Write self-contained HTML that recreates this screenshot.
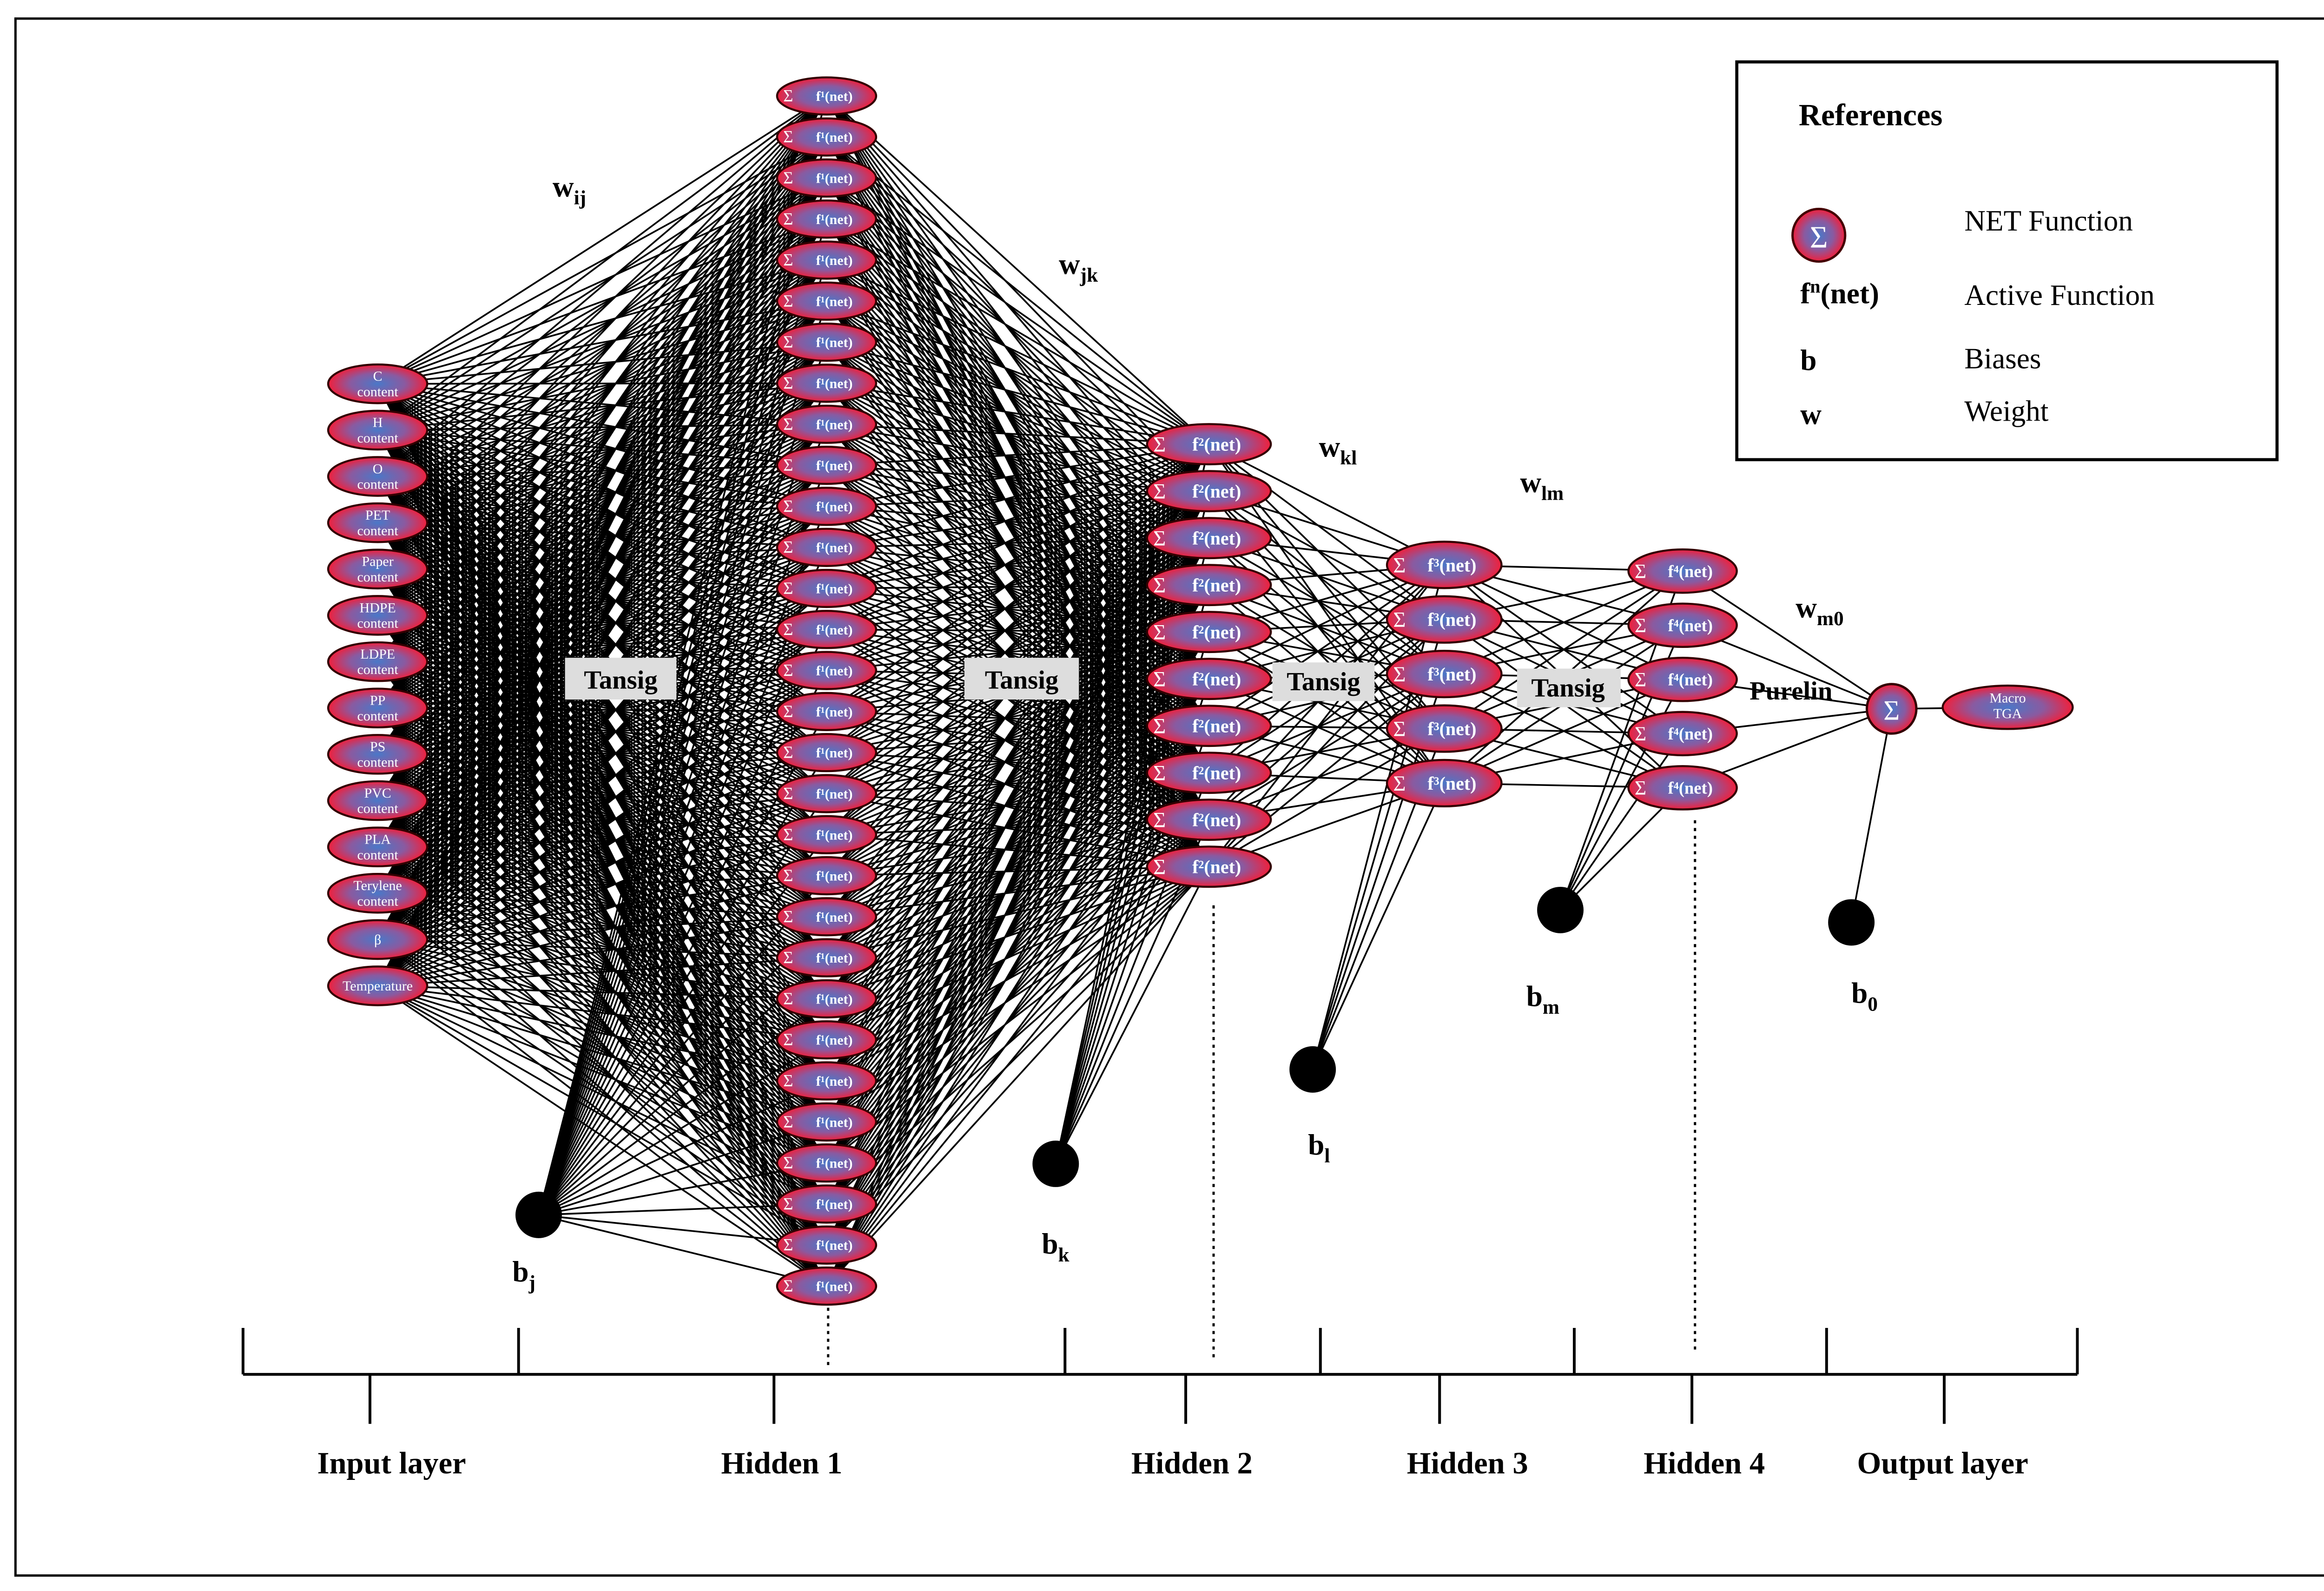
<!DOCTYPE html>
<html><head><meta charset="utf-8"><style>
html,body{margin:0;padding:0;background:#fff}
svg{display:block}
text{font-family:"Liberation Serif",serif}
</style></head><body>
<svg id="s" xmlns="http://www.w3.org/2000/svg" width="5222" height="3423" viewBox="0 0 1568 1028" preserveAspectRatio="none">
<defs>
<radialGradient id="g" cx="50%" cy="50%" r="50%">
<stop offset="0" stop-color="#4a78c8"/><stop offset="0.55" stop-color="#8a5aa0"/><stop offset="1" stop-color="#f0203c"/>
</radialGradient>
</defs>
<rect x="0" y="0" width="1568" height="1028" fill="#fff"/>
<rect x="10" y="12" width="1548" height="1006" fill="none" stroke="#000" stroke-width="1.5"/>
<g id="lines" stroke="#000" stroke-width="1.1"></g>
<g id="nodes"></g>
<rect x="1122" y="40" width="349" height="257" fill="#fff" stroke="#000" stroke-width="2"/>
<text x="1162" y="81" font-size="20" font-weight="bold">References</text>
<circle cx="1175" cy="152" r="17" fill="url(#g)" stroke="#400" stroke-width="1.5"/>
<text x="1175" y="160" font-size="20" fill="#fff" text-anchor="middle">Σ</text>
<text x="1269" y="149" font-size="19">NET Function</text>
<text x="1163" y="196" font-size="19" font-weight="bold">f<tspan font-size="12" dy="-7">n</tspan><tspan dy="7">(net)</tspan></text>
<text x="1269" y="197" font-size="19">Active Function</text>
<text x="1163" y="239" font-size="19" font-weight="bold">b</text>
<text x="1269" y="238" font-size="19">Biases</text>
<text x="1163" y="274" font-size="19" font-weight="bold">w</text>
<text x="1269" y="272" font-size="19">Weight</text>
<g font-size="19" font-weight="bold">
<text x="357" y="127">w<tspan font-size="13" dy="5">ij</tspan></text>
<text x="684" y="177">w<tspan font-size="13" dy="5">jk</tspan></text>
<text x="852" y="295">w<tspan font-size="13" dy="5">kl</tspan></text>
<text x="982" y="318">w<tspan font-size="13" dy="5">lm</tspan></text>
<text x="1160" y="399">w<tspan font-size="13" dy="5">m0</tspan></text>
<text x="331" y="828">b<tspan font-size="13" dy="5">j</tspan></text>
<text x="673" y="810">b<tspan font-size="13" dy="5">k</tspan></text>
<text x="845" y="746">b<tspan font-size="13" dy="5">l</tspan></text>
<text x="986" y="650">b<tspan font-size="13" dy="5">m</tspan></text>
<text x="1196" y="648">b<tspan font-size="13" dy="5">0</tspan></text>
</g>
<g font-size="17" font-weight="bold">
<rect x="365" y="425" width="72" height="27" fill="#ddd"/><text x="401" y="445" text-anchor="middle">Tansig</text>
<rect x="623" y="425" width="74" height="27" fill="#ddd"/><text x="660" y="445" text-anchor="middle">Tansig</text>
<rect x="822" y="428" width="66" height="25" fill="#ddd"/><text x="855" y="446" text-anchor="middle">Tansig</text>
<rect x="980" y="432" width="67" height="25" fill="#ddd"/><text x="1013" y="450" text-anchor="middle">Tansig</text>
<text x="1157" y="452" text-anchor="middle">Purelin</text>
</g>
<g stroke="#000" stroke-width="1.8" fill="none">
<line x1="157" y1="888" x2="1342" y2="888"/>
<line x1="157" y1="858" x2="157" y2="888"/><line x1="335" y1="858" x2="335" y2="888"/>
<line x1="688" y1="858" x2="688" y2="888"/><line x1="853" y1="858" x2="853" y2="888"/>
<line x1="1017" y1="858" x2="1017" y2="888"/><line x1="1180" y1="858" x2="1180" y2="888"/>
<line x1="1342" y1="858" x2="1342" y2="888"/>
<line x1="239" y1="888" x2="239" y2="920"/><line x1="500" y1="888" x2="500" y2="920"/>
<line x1="766" y1="888" x2="766" y2="920"/><line x1="930" y1="888" x2="930" y2="920"/>
<line x1="1093" y1="888" x2="1093" y2="920"/><line x1="1256" y1="888" x2="1256" y2="920"/>
</g>
<g stroke="#000" stroke-width="1.5" stroke-dasharray="2,3">
<line x1="535" y1="845" x2="535" y2="885"/><line x1="784" y1="585" x2="784" y2="878"/><line x1="1095" y1="530" x2="1095" y2="873"/>
</g>
<g font-size="20" font-weight="bold" text-anchor="middle">
<text x="253" y="952">Input layer</text><text x="505" y="952">Hidden 1</text>
<text x="770" y="952">Hidden 2</text><text x="948" y="952">Hidden 3</text>
<text x="1101" y="952">Hidden 4</text><text x="1255" y="952">Output layer</text>
</g>
</svg>
<script>
var NS="http://www.w3.org/2000/svg";
var L=document.getElementById("lines"),N=document.getElementById("nodes");
function el(p,t,a,txt){var e=document.createElementNS(NS,t);for(var k in a)e.setAttribute(k,a[k]);if(txt!=null)e.textContent=txt;p.appendChild(e);return e;}
function col(x,y0,y1,n){var r=[];for(var i=0;i<n;i++)r.push([x,y0+(y1-y0)*i/(n-1)]);return r;}
var inp=col(244,248,637,14),h1=col(534,62,831,30),h2=col(781,287,560,10),h3=col(933,365,506,5),h4=col(1087,369,509,5);
var out=[[1222,458]];
var bj=[348,785],bk=[682,752],bl=[848,691],bm=[1008,588],b0=[1196,596];
function conn(A,B){A.forEach(function(a){B.forEach(function(b){el(L,"line",{x1:a[0],y1:a[1],x2:b[0],y2:b[1]});});});}
conn(inp,h1);conn([bj],h1);conn(h1,h2);conn([bk],h2);conn(h2,h3);conn([bl],h3);conn(h3,h4);conn([bm],h4);conn(h4,out);conn([b0],out);
el(L,"line",{x1:1222,y1:458,x2:1297,y2:457});
var labs=["C|content","H|content","O|content","PET|content","Paper|content","HDPE|content","LDPE|content","PP|content","PS|content","PVC|content","PLA|content","Terylene|content","β","Temperature"];
inp.forEach(function(p,i){el(N,"ellipse",{cx:p[0],cy:p[1],rx:32,ry:12.5,fill:"url(#g)",stroke:"#300","stroke-width":1.3});
var s=labs[i].split("|");
if(s.length==2){el(N,"text",{x:p[0],y:p[1]-2,"font-size":9,fill:"#fff","text-anchor":"middle"},s[0]);el(N,"text",{x:p[0],y:p[1]+8,"font-size":9,fill:"#fff","text-anchor":"middle"},s[1]);}
else el(N,"text",{x:p[0],y:p[1]+3,"font-size":9,fill:"#fff","text-anchor":"middle"},s[0]);});
function layer(P,rx,ry,sup,fs){P.forEach(function(p){el(N,"ellipse",{cx:p[0],cy:p[1],rx:rx,ry:ry,fill:"url(#g)",stroke:"#300","stroke-width":1.3});
el(N,"text",{x:p[0]-rx+4,y:p[1]+fs*0.4,"font-size":fs+2,fill:"#fff"},"Σ");
el(N,"text",{x:p[0]+5,y:p[1]+fs*0.35,"font-size":fs,fill:"#fff","text-anchor":"middle","font-weight":"bold"},"f"+sup+"(net)");});}
layer(h1,32,12,"¹",9);layer(h2,40,13,"²",12);layer(h3,37,15,"³",12);layer(h4,35,14,"⁴",11);
[bj,bk,bl,bm,b0].forEach(function(b){el(N,"circle",{cx:b[0],cy:b[1],r:15,fill:"#000"});});
el(N,"circle",{cx:1222,cy:458,r:16,fill:"url(#g)",stroke:"#300","stroke-width":1.5});
el(N,"text",{x:1222,y:465,"font-size":18,fill:"#fff","text-anchor":"middle"},"Σ");
el(N,"ellipse",{cx:1297,cy:457,rx:42,ry:14,fill:"url(#g)",stroke:"#300","stroke-width":1.3});
el(N,"text",{x:1297,y:454,"font-size":9,fill:"#fff","text-anchor":"middle"},"Macro");
el(N,"text",{x:1297,y:464,"font-size":9,fill:"#fff","text-anchor":"middle"},"TGA");
</script>
</body></html>
